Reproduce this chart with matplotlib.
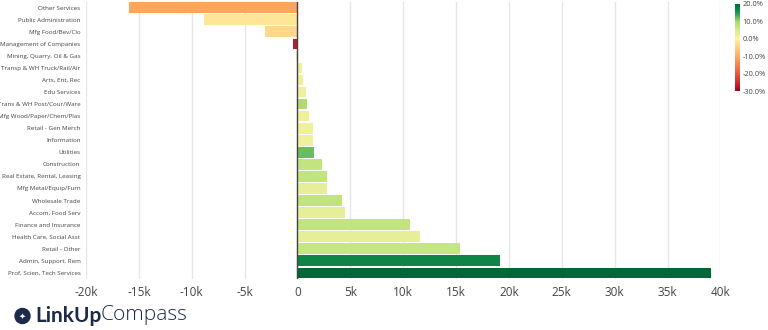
import matplotlib.pyplot as plt
import matplotlib.colors as mcolors
from matplotlib.cm import ScalarMappable
from matplotlib.patches import Circle
from matplotlib.ticker import FuncFormatter

plt.rcParams['font.family'] = ['Open Sans', 'DejaVu Sans']

industries = [
    "Other Services", "Public Administration", "Mfg Food/Bev/Clo",
    "Management of Companies", "Mining, Quarry, Oil & Gas",
    "Transp & WH Truck/Rail/Air", "Arts, Ent, Rec", "Edu Services",
    "Trans & WH Post/Cour/Ware", "Mfg Wood/Paper/Chem/Plas",
    "Retail - Gen Merch", "Information", "Utilities", "Construction",
    "Real Estate, Rental, Leasing", "Mfg Metal/Equip/Furn",
    "Wholesale Trade", "Accom, Food Serv", "Finance and Insurance",
    "Health Care, Social Asst", "Retail - Other", "Admin, Support, Rem",
    "Prof, Scien, Tech Services",
]
job_change = [
    -15900, -8800, -3100, -400, -150, 400, 500, 800, 900, 1100, 1500, 1500,
    1550, 2300, 2750, 2800, 4200, 4500, 10600, 11600, 15400, 19200, 39100,
]
pct_change = [
    -11, -2, -4, -27, 0, 2, 2, 2, 9, 2, 2, 2, 12, 7, 7, 3, 7, 3, 7, 3, 6.5,
    17, 20,
]

# red-yellow-green scale with the pale yellow centred on 0%
cmap = mcolors.LinearSegmentedColormap.from_list("rdylgn0", [
    (0.0, "#a50026"), (0.2, "#ec5a3c"), (0.4, "#fdae61"),
    (0.6, "#fff2a6"), (0.7, "#d4ec8c"), (0.8, "#a6d96a"),
    (0.9, "#1a9850"), (1.0, "#006837"),
])
norm = mcolors.Normalize(vmin=-30, vmax=20)
colors = [cmap(norm(p)) for p in pct_change]

fig = plt.figure(figsize=(7.68, 3.3), dpi=100)
ax = fig.add_axes([0.112, 0.155, 0.826, 0.84])

ypos = list(range(len(industries)))
ax.barh(ypos, job_change, height=0.88, color=colors, zorder=2)
ax.set_yticks(ypos)
ax.set_yticklabels(industries, fontsize=4.5, color="#444444")
ax.set_ylim(len(industries) - 0.5, -0.5)

ax.set_xlim(-20000, 40000)
ax.set_xticks(range(-20000, 40001, 5000))
ax.xaxis.set_major_formatter(
    FuncFormatter(lambda v, _: "0" if v == 0 else f"{int(v / 1000)}k"))
ax.tick_params(axis="x", labelsize=8.5, colors="#444444", length=0, pad=5)
ax.tick_params(axis="y", length=0, pad=4)
ax.grid(axis="x", color="#e6e6e6", linewidth=1, zorder=0)
ax.axvline(0, color="#444444", linewidth=1, zorder=3)
for s in ax.spines.values():
    s.set_visible(False)

# colour bar for percent change
cax = fig.add_axes([0.957, 0.724, 0.006, 0.264])
cb = fig.colorbar(ScalarMappable(norm=norm, cmap=cmap), cax=cax)
cb.set_ticks([-30, -20, -10, 0, 10, 20])
cb.ax.yaxis.set_major_formatter(FuncFormatter(lambda v, _: f"{v:.1f}%"))
cb.ax.tick_params(labelsize=5.3, colors="#444444", length=0, pad=2)
cb.outline.set_visible(False)

# brand mark
navy = "#1c2b4a"
fig.add_artist(Circle((0.225, 0.14), 0.075, transform=fig.dpi_scale_trans,
                      color=navy))
fig.text(0.225, 0.14, "\u2726", fontsize=6, color="white", ha="center",
         va="center", transform=fig.dpi_scale_trans, family="DejaVu Sans")
fig.text(35 / 768, 1 - 316 / 330, "LinkUp", fontsize=15, fontweight="bold",
         color=navy, va="center", ha="left", family="Lato")
fig.text(101 / 768, 1 - 315 / 330, "Compass", fontsize=15,
         fontweight="light", color=navy, va="center", ha="left",
         family="Open Sans")

fig.savefig("out.png", dpi=100, facecolor="white")
